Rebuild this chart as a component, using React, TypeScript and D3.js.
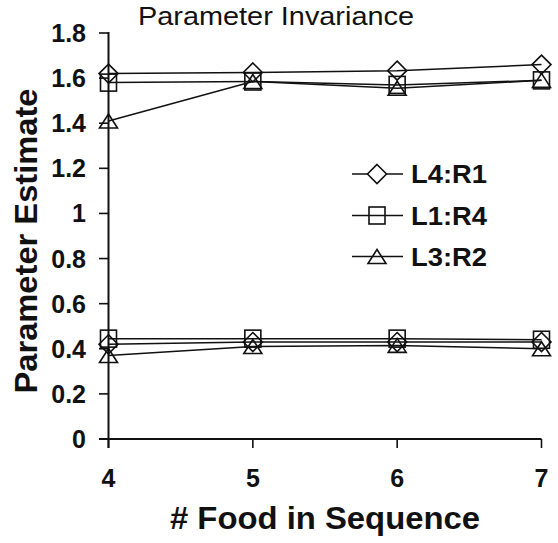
import React from "react";
import * as d3 from "d3";

const foodCounts = [4, 5, 6, 7];
const yTicks = [0, 0.2, 0.4, 0.6, 0.8, 1, 1.2, 1.4, 1.6, 1.8];

const seriesNames = ["L4:R1", "L1:R4", "L3:R2"];
const seriesMarkers = ["diamond", "square", "triangle"];

const l4r1Upper = [1.62, 1.625, 1.633, 1.66];
const l4r1Lower = [0.42, 0.43, 0.43, 0.43];
const l1r4Upper = [1.58, 1.585, 1.57, 1.59];
const l1r4Lower = [0.445, 0.445, 0.445, 0.44];
const l3r2Upper = [1.41, 1.585, 1.555, 1.59];
const l3r2Lower = [0.37, 0.41, 0.415, 0.40];

const seriesData = [
  [l4r1Upper, l4r1Lower],
  [l1r4Upper, l1r4Lower],
  [l3r2Upper, l3r2Lower],
];

const W = 558;
const H = 543;

function Marker({ type, x, y, fill = "none" }: { type: string; x: number; y: number; fill?: string }) {
  const sw = 1.6;
  if (type === "diamond") {
    const r = 9.5;
    return (
      <path
        d={`M${x},${y - r}L${x + r},${y}L${x},${y + r}L${x - r},${y}Z`}
        fill={fill}
        stroke="#111"
        strokeWidth={sw}
      />
    );
  }
  if (type === "square") {
    return <rect x={x - 8} y={y - 8.5} width={16} height={17} fill={fill} stroke="#111" strokeWidth={sw} />;
  }
  const hw = 9;
  const hh = 7;
  return (
    <path
      d={`M${x},${y - hh}L${x + hw},${y + hh}L${x - hw},${y + hh}Z`}
      fill={fill}
      stroke="#111"
      strokeWidth={sw}
    />
  );
}

export default function App() {
  const x = d3.scaleLinear().domain([4, 7]).range([108.5, 541.5]);
  const y = d3.scaleLinear().domain([0, 1.8]).range([439, 33]);
  const line = d3
    .line<number>()
    .x((_, i) => x(foodCounts[i]))
    .y((d) => y(d));

  const font = "'Liberation Sans', Arial, Helvetica, sans-serif";
  const legendRows = [174, 215.5, 256.5];

  return (
    <svg width={W} height={H} style={{ position: "absolute", left: 0, top: 0, background: "#fff" }}>
      <rect width={W} height={H} fill="#fff" />
      {/* title */}
      <text
        x={276}
        y={25}
        textAnchor="middle"
        fontFamily={font}
        fontSize={26}
        textLength={276}
        lengthAdjust="spacingAndGlyphs"
        fill="#111"
      >
        Parameter Invariance
      </text>
      {/* y axis */}
      <line x1={x(4)} x2={x(4)} y1={y(1.8) - 1} y2={448} stroke="#111" strokeWidth={2} />
      {yTicks.map((t) => (
        <g key={t}>
          <line x1={99} x2={x(4)} y1={y(t)} y2={y(t)} stroke="#111" strokeWidth={1.6} />
          <text
            x={86}
            y={y(t)}
            dy="0.36em"
            textAnchor="end"
            fontFamily={font}
            fontWeight="bold"
            fontSize={25}
            fill="#111"
          >
            {d3.format("~g")(t)}
          </text>
        </g>
      ))}
      {/* x axis */}
      <line x1={99} x2={x(7)} y1={y(0)} y2={y(0)} stroke="#111" strokeWidth={1.8} />
      {foodCounts.map((c) => (
        <g key={c}>
          <line x1={x(c)} x2={x(c)} y1={y(0)} y2={448} stroke="#111" strokeWidth={1.6} />
          <text
            x={x(c)}
            y={478}
            dy="0.36em"
            textAnchor="middle"
            fontFamily={font}
            fontWeight="bold"
            fontSize={25}
            fill="#111"
          >
            {c}
          </text>
        </g>
      ))}
      {/* axis titles */}
      <text
        x={325}
        y={529}
        textAnchor="middle"
        fontFamily={font}
        fontWeight="bold"
        fontSize={31}
        textLength={310}
        lengthAdjust="spacingAndGlyphs"
        fill="#111"
      >
        # Food in Sequence
      </text>
      <text
        transform={`translate(37,241) rotate(-90)`}
        textAnchor="middle"
        fontFamily={font}
        fontWeight="bold"
        fontSize={31}
        textLength={305}
        lengthAdjust="spacingAndGlyphs"
        fill="#111"
      >
        Parameter Estimate
      </text>
      {/* series lines */}
      {seriesData.map((groups, si) =>
        groups.map((vals, gi) => (
          <path key={`l${si}-${gi}`} d={line(vals) || ""} fill="none" stroke="#111" strokeWidth={1.5} />
        ))
      )}
      {/* markers */}
      {seriesData.map((groups, si) =>
        groups.map((vals, gi) =>
          vals.map((v, i) => (
            <Marker key={`m${si}-${gi}-${i}`} type={seriesMarkers[si]} x={x(foodCounts[i])} y={y(v)} />
          ))
        )
      )}
      {/* legend */}
      {seriesNames.map((name, i) => (
        <g key={name}>
          <line x1={352} x2={403} y1={legendRows[i]} y2={legendRows[i]} stroke="#111" strokeWidth={1.5} />
          <Marker type={seriesMarkers[i]} x={377} y={legendRows[i]} fill={i === 0 ? "#fff" : "none"} />
          <text
            x={411}
            y={legendRows[i]}
            dy="0.36em"
            fontFamily={font}
            fontWeight="bold"
            fontSize={25}
            textLength={76}
            lengthAdjust="spacingAndGlyphs"
            fill="#111"
          >
            {name}
          </text>
        </g>
      ))}
    </svg>
  );
}
